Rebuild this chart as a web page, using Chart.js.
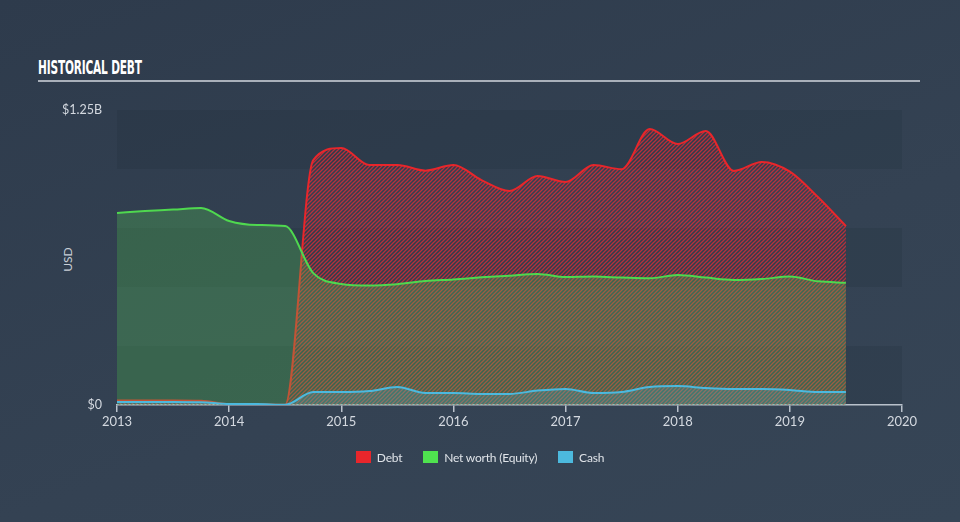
<!DOCTYPE html>
<html>
<head>
<meta charset="utf-8">
<script src="https://cdn.jsdelivr.net/npm/chart.js@4"></script>
<style>
  html, body { margin: 0; padding: 0; }
  body {
    width: 960px; height: 522px; overflow: hidden; position: relative;
    background: linear-gradient(160deg, #2e3b4c 0%, #344253 60%, #364556 100%);
    font-family: Lato, "Open Sans", sans-serif;
  }
  #titulo {
    position: absolute; left: 38px; top: 56px;
    color: #ffffff; font-family: "Liberation Sans Narrow", "DejaVu Sans Condensed", sans-serif;
    font-weight: bold; font-size: 19px; letter-spacing: -0.3px;
    transform: scaleX(0.62); transform-origin: left top;
  }
  #linha {
    position: absolute; left: 38px; top: 80px; width: 882px; height: 2px; background: #a9b0ba;
  }
  #usd {
    position: absolute; left: 55px; top: 252px; color: #c9cfd7; font-size: 12px;
    transform: rotate(-90deg); transform-origin: center;
  }
  #grafico { position: absolute; left: 0; top: 0; }
  #legenda {
    position: absolute; top: 450px; left: 0; width: 960px; text-align: center;
    color: #dfe3e8; font-size: 12px; letter-spacing: -0.2px;
  }
  #legenda span.item { display: inline-block; margin: 0 9px; }
  #legenda span.cor {
    display: inline-block; width: 15px; height: 12px; vertical-align: -1px; margin-right: 6px;
  }
</style>
</head>
<body>
<div id="titulo">HISTORICAL DEBT</div>
<div id="linha"></div>
<div id="usd">USD</div>
<canvas id="grafico" width="960" height="522"></canvas>
<div id="legenda">
  <span class="item"><span class="cor" style="background:#e8262b"></span>Debt</span>
  <span class="item"><span class="cor" style="background:#4fe24f"></span>Net worth (Equity)</span>
  <span class="item"><span class="cor" style="background:#4cb9de"></span>Cash</span>
</div>
<script>
// Datas (anos decimais, trimestrais)
const anos = [2013, 2013.25, 2013.5, 2013.75, 2014, 2014.25, 2014.5, 2014.75,
  2015, 2015.25, 2015.5, 2015.75, 2016, 2016.25, 2016.5, 2016.75,
  2017, 2017.25, 2017.5, 2017.75, 2018, 2018.25, 2018.5, 2018.75,
  2019, 2019.25, 2019.5];

// Valores em bilhões de USD
const divida = [0.019, 0.019, 0.019, 0.018, 0.004, 0.003, 0.001, 1.038,
  1.089, 1.017, 1.017, 0.993, 1.017, 0.953, 0.907, 0.970,
  0.945, 1.017, 0.999, 1.169, 1.106, 1.161, 0.992, 1.030,
  0.989, 0.881, 0.758];

const patrimonio = [0.814, 0.822, 0.828, 0.835, 0.780, 0.763, 0.758, 0.559,
  0.513, 0.506, 0.512, 0.525, 0.532, 0.541, 0.548, 0.555,
  0.542, 0.544, 0.540, 0.537, 0.551, 0.540, 0.530, 0.534,
  0.544, 0.524, 0.518];

const caixa = [0.013, 0.013, 0.013, 0.012, 0.004, 0.004, 0.001, 0.055,
  0.055, 0.059, 0.076, 0.051, 0.051, 0.047, 0.047, 0.061,
  0.068, 0.051, 0.055, 0.076, 0.080, 0.072, 0.068, 0.068,
  0.064, 0.055, 0.055];

const ticksAnos = [2013, 2014, 2015, 2016, 2017, 2018, 2019, 2020];

function pontos(valores) {
  return anos.map((a, i) => ({ x: a, y: valores[i] }));
}

// Padrão de listras diagonais para a área da dívida
function criarListras(cor) {
  const c = document.createElement('canvas');
  c.width = 4; c.height = 4;
  const g = c.getContext('2d');
  g.strokeStyle = cor;
  g.lineWidth = 1.3;
  g.beginPath();
  g.moveTo(-1, 5); g.lineTo(5, -1);
  g.moveTo(-1, 1); g.lineTo(1, -1);
  g.moveTo(3, 5); g.lineTo(5, 3);
  g.stroke();
  return g.createPattern(c, 'repeat');
}

// Faixas horizontais alternadas no fundo da área do gráfico
const faixas = {
  id: 'faixas',
  beforeDraw(chart) {
    const { ctx, chartArea, scales } = chart;
    const y = scales.y;
    ctx.save();
    ctx.fillStyle = 'rgba(20,30,45,0.12)';
    [[0, 0.25], [0.5, 0.75], [1.0, 1.25]].forEach(([a, b]) => {
      const y1 = y.getPixelForValue(b);
      const y2 = y.getPixelForValue(a);
      ctx.fillRect(chartArea.left, y1, chartArea.right - chartArea.left, y2 - y1);
    });
    ctx.restore();
  }
};

const ctx = document.getElementById('grafico').getContext('2d');

new Chart(ctx, {
  type: 'line',
  data: {
    datasets: [
      {
        label: 'Cash',
        data: pontos(caixa),
        borderColor: '#4cb9de',
        backgroundColor: 'rgba(76,185,222,0.22)',
        borderWidth: 2,
        fill: 'origin'
      },
      {
        label: 'Net worth (Equity)',
        data: pontos(patrimonio),
        borderColor: '#4fd84f',
        backgroundColor: 'rgba(90,210,85,0.27)',
        borderWidth: 2,
        fill: 'origin'
      },
      {
        label: 'Debt',
        data: pontos(divida),
        borderColor: '#e8262b',
        backgroundColor: criarListras('rgba(225,45,55,0.75)'),
        borderWidth: 2,
        fill: 'origin'
      }
    ]
  },
  options: {
    responsive: false,
    animation: false,
    devicePixelRatio: 1,
    layout: { padding: { left: 0, right: 58, top: 110, bottom: 87 } },
    elements: {
      point: { radius: 0 },
      line: { cubicInterpolationMode: 'monotone' }
    },
    plugins: {
      legend: { display: false },
      tooltip: { enabled: false }
    },
    scales: {
      x: {
        type: 'linear',
        min: 2013,
        max: 2020,
        afterFit: (scale) => { scale.height = 30; },
        afterBuildTicks: (scale) => { scale.ticks = ticksAnos.map(v => ({ value: v })); },
        grid: { drawOnChartArea: false, color: '#b9c1cb', tickLength: 7, lineWidth: 1.5 },
        border: { color: '#b9c1cb', width: 1.5 },
        ticks: {
          color: '#d4d9e0',
          padding: 2,
          maxRotation: 0,
          font: { family: 'Lato', size: 13 },
          callback: (v) => String(v)
        }
      },
      y: {
        min: 0,
        max: 1.25,
        afterFit: (scale) => { scale.width = 117; },
        grid: { display: false },
        border: { display: false },
        ticks: {
          stepSize: 0.25,
          color: '#d4d9e0',
          padding: 7,
          font: { family: 'Lato', size: 12.5 },
          callback: (v) => {
            if (v === 0) return '$0';
            if (Math.abs(v - 1.25) < 1e-9) return '$1.25B';
            return '';
          }
        }
      }
    }
  },
  plugins: [faixas]
});
</script>
</body>
</html>
